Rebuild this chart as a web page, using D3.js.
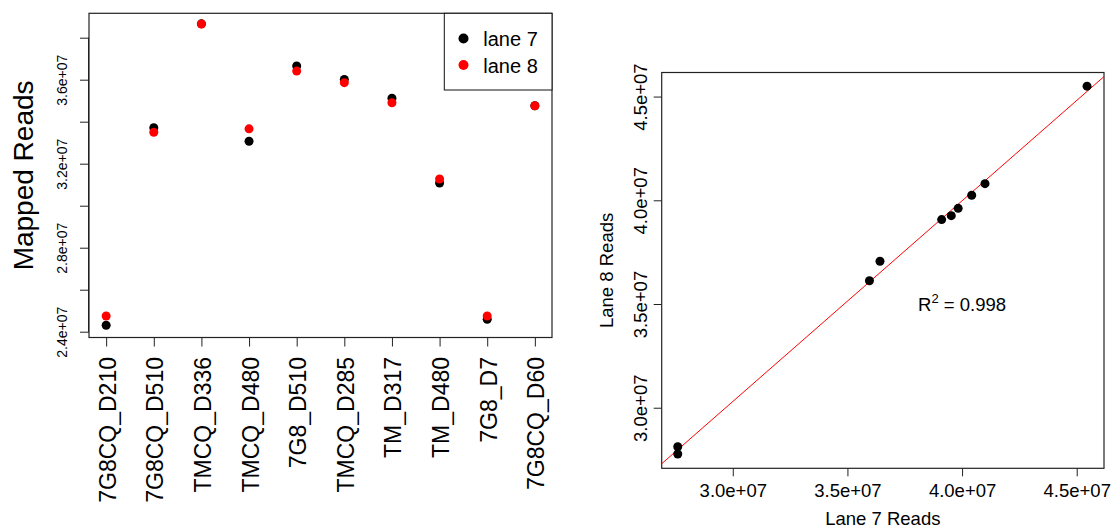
<!DOCTYPE html>
<html>
<head>
<meta charset="utf-8">
<script src="https://cdn.jsdelivr.net/npm/d3@7"></script>
<style>
    body { margin: 0; background: #fff; }
    svg { display: block; font-family: "Liberation Sans", Arial, Helvetica, sans-serif; }
</style>
</head>
<body>
<svg id="chart" width="1112" height="529"></svg>
<script>
// left panel: mapped reads per sample, both lanes
const samples = ["7G8CQ_D210", "7G8CQ_D510", "TMCQ_D336", "TMCQ_D480", "7G8_D510",
                 "TMCQ_D285", "TM_D317", "TM_D480", "7G8_D7", "7G8CQ_D60"];
const lane7Mapped = [24.31e6, 33.71e6, 38.66e6, 33.07e6, 36.65e6, 36.01e6, 35.12e6, 31.08e6, 24.59e6, 34.76e6];
const lane8Mapped = [24.75e6, 33.50e6, 38.65e6, 33.66e6, 36.41e6, 35.86e6, 34.90e6, 31.27e6, 24.75e6, 34.76e6];
const leftYTicks = [2.4e7, 2.6e7, 2.8e7, 3.0e7, 3.2e7, 3.4e7, 3.6e7, 3.8e7];
const leftYLabelled = [2.4e7, 2.8e7, 3.2e7, 3.6e7];

// right panel: lane 7 vs lane 8 reads
const lane7Reads = [45.45e6, 41.00e6, 40.42e6, 39.83e6, 39.53e6, 39.11e6, 36.42e6, 35.96e6, 27.60e6, 27.60e6];
const lane8Reads = [45.50e6, 40.80e6, 40.24e6, 39.61e6, 39.26e6, 39.07e6, 37.06e6, 36.12e6, 28.12e6, 27.77e6];
const rightTicks = [3.0e7, 3.5e7, 4.0e7, 4.5e7];
const rSquaredText = "0.998";

const svg = d3.select("#chart");

const sci = v => {
    // R style: 2.4e+07
    const e = Math.floor(Math.log10(v));
    const m = v / Math.pow(10, e);
    return m.toFixed(1) + "e+" + String(e).padStart(2, "0");
};

function drawLeft() {
    const box = {left: 89, right: 552, top: 13.3, bottom: 337.5};
    const x = d3.scaleLinear().domain([0.64, 10.36]).range([box.left, box.right]);
    const y = d3.scaleLinear().domain([2.3724e7, 3.9162e7]).range([box.bottom, box.top]);

    const g = svg.append("g");

    // y axis
    const yAxis = g.append("g")
        .attr("transform", `translate(${box.left},0)`)
        .call(d3.axisLeft(y).tickValues(leftYTicks).tickSize(9).tickSizeOuter(0)
            .tickFormat(d => leftYLabelled.includes(d) ? sci(d) : ""));
    yAxis.select(".domain").attr("d", `M-0.5,${y(2.4e7)}V${y(3.8e7)}`).attr("stroke", "#222");
    yAxis.selectAll(".tick line").attr("stroke", "#222");
    yAxis.selectAll(".tick text")
        .attr("transform", "rotate(-90)")
        .attr("x", 0).attr("y", -22).attr("dy", 0)
        .attr("text-anchor", "middle")
        .attr("font-size", 14).attr("fill", "#000");

    // x axis with sample names
    const xAxis = g.append("g")
        .attr("transform", `translate(0,${box.bottom})`)
        .call(d3.axisBottom(x).tickValues(d3.range(1, samples.length + 1)).tickSize(9).tickSizeOuter(0)
            .tickFormat(i => samples[i - 1]));
    xAxis.select(".domain").remove();
    xAxis.selectAll(".tick line").attr("stroke", "#222");
    xAxis.selectAll(".tick text")
        .attr("transform", "rotate(-90)")
        .attr("x", -19.5).attr("y", 9).attr("dy", 0)
        .attr("text-anchor", "end")
        .attr("font-size", 23).attr("fill", "#000");

    g.append("rect")
        .attr("x", box.left).attr("y", box.top)
        .attr("width", box.right - box.left).attr("height", box.bottom - box.top)
        .attr("fill", "none").attr("stroke", "#222").attr("stroke-width", 1.2);

    g.append("text")
        .attr("transform", `translate(33.3,${(box.top + box.bottom) / 2}) rotate(-90)`)
        .attr("text-anchor", "middle")
        .attr("font-size", 28)
        .text("Mapped Reads");

    g.append("g").selectAll("circle")
        .data(lane7Mapped)
        .enter().append("circle")
        .attr("cx", (d, i) => x(i + 1))
        .attr("cy", d => y(d))
        .attr("r", 4.5)
        .attr("fill", "#000");

    g.append("g").selectAll("circle")
        .data(lane8Mapped)
        .enter().append("circle")
        .attr("cx", (d, i) => x(i + 1))
        .attr("cy", d => y(d))
        .attr("r", 4.5)
        .attr("fill", "#ff0000");

    // legend
    const legend = g.append("g");
    legend.append("rect")
        .attr("x", 444.3).attr("y", box.top)
        .attr("width", box.right - 444.3).attr("height", 90 - box.top)
        .attr("fill", "#fff").attr("stroke", "#111").attr("stroke-width", 1);
    const entries = [["lane 7", "#000"], ["lane 8", "#ff0000"]];
    entries.forEach(([name, col], i) => {
        legend.append("circle")
            .attr("cx", 463.5).attr("cy", 38.5 + i * 26.5)
            .attr("r", 5).attr("fill", col);
        legend.append("text")
            .attr("x", 483.3).attr("y", 46.2 + i * 26.5)
            .attr("font-size", 20)
            .text(name);
    });
}

function drawRight() {
    const box = {left: 661.7, right: 1104, top: 72.5, bottom: 468.3};
    const x = d3.scaleLinear().domain([2.690e7, 4.619e7]).range([box.left, box.right]);
    const y = d3.scaleLinear().domain([2.708e7, 4.616e7]).range([box.bottom, box.top]);

    const g = svg.append("g");

    g.append("clipPath").attr("id", "right-clip")
        .append("rect")
        .attr("x", box.left).attr("y", box.top)
        .attr("width", box.right - box.left).attr("height", box.bottom - box.top);

    const xAxis = g.append("g")
        .attr("transform", `translate(0,${box.bottom})`)
        .call(d3.axisBottom(x).tickValues(rightTicks).tickSize(8).tickSizeOuter(0).tickFormat(sci));
    xAxis.select(".domain").remove();
    xAxis.selectAll(".tick line").attr("stroke", "#222");
    xAxis.selectAll(".tick text")
        .attr("y", 29).attr("dy", 0)
        .attr("font-size", 18.5).attr("fill", "#000");

    const yAxis = g.append("g")
        .attr("transform", `translate(${box.left},0)`)
        .call(d3.axisLeft(y).tickValues(rightTicks).tickSize(8).tickSizeOuter(0).tickFormat(sci));
    yAxis.select(".domain").remove();
    yAxis.selectAll(".tick line").attr("stroke", "#222");
    yAxis.selectAll(".tick text")
        .attr("transform", "rotate(-90)")
        .attr("x", 0).attr("y", -15).attr("dy", 0)
        .attr("text-anchor", "middle")
        .attr("font-size", 18.5).attr("fill", "#000");

    g.append("rect")
        .attr("x", box.left).attr("y", box.top)
        .attr("width", box.right - box.left).attr("height", box.bottom - box.top)
        .attr("fill", "none").attr("stroke", "#222").attr("stroke-width", 1.2);

    g.append("text")
        .attr("x", (box.left + box.right) / 2).attr("y", 525)
        .attr("text-anchor", "middle")
        .attr("font-size", 18.5)
        .text("Lane 7 Reads");

    g.append("text")
        .attr("transform", `translate(613.3,${(box.top + box.bottom) / 2}) rotate(-90)`)
        .attr("text-anchor", "middle")
        .attr("font-size", 18.5)
        .text("Lane 8 Reads");

    // least squares fit, lane 8 ~ lane 7
    const mx = d3.mean(lane7Reads), my = d3.mean(lane8Reads);
    const sxy = d3.sum(lane7Reads, (v, i) => (v - mx) * (lane8Reads[i] - my));
    const sxx = d3.sum(lane7Reads, v => (v - mx) * (v - mx));
    const slope = sxy / sxx;
    const icept = my - slope * mx;
    const [x0, x1] = x.domain();

    g.append("line")
        .attr("clip-path", "url(#right-clip)")
        .attr("x1", x(x0)).attr("y1", y(icept + slope * x0))
        .attr("x2", x(x1)).attr("y2", y(icept + slope * x1))
        .attr("stroke", "#ff0000").attr("stroke-width", 1);

    g.append("g").selectAll("circle")
        .data(lane7Reads)
        .enter().append("circle")
        .attr("cx", d => x(d))
        .attr("cy", (d, i) => y(lane8Reads[i]))
        .attr("r", 4.5)
        .attr("fill", "#000");

    const r2 = g.append("text")
        .attr("x", x(4.0e7)).attr("y", y(3.5e7) + 7)
        .attr("text-anchor", "middle")
        .attr("font-size", 18.5);
    r2.append("tspan").text("R");
    r2.append("tspan").attr("font-size", 13).attr("dy", -8).text("2");
    r2.append("tspan").attr("dy", 8).text(" = " + rSquaredText);
}

drawLeft();
drawRight();
</script>
</body>
</html>
